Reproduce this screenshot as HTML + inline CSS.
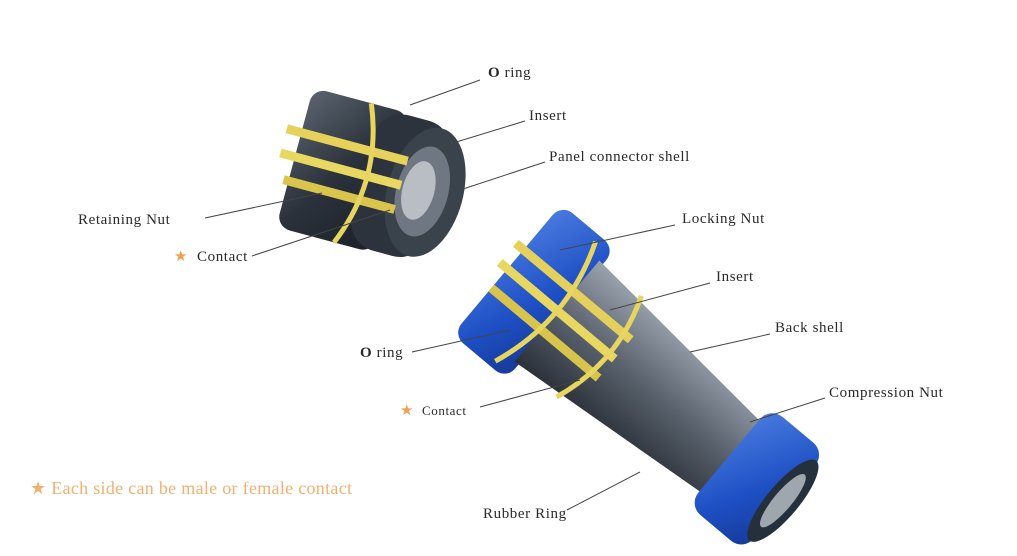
<!DOCTYPE html>
<html><head><meta charset="utf-8"><style>
html,body{margin:0;padding:0;background:#fff;}
body{width:1017px;height:556px;overflow:hidden;position:relative;}
svg{position:absolute;left:0;top:0;}
.t{font-family:"Liberation Serif",serif;font-size:15px;letter-spacing:0.6px;fill:#2a2a2a;}
</style></head><body>
<svg width="1017" height="556" viewBox="0 0 1017 556">
<defs>
<linearGradient id="dk" x1="0" y1="0" x2="1" y2="1"><stop offset="0" stop-color="#5b6470"/><stop offset="0.5" stop-color="#2b323b"/><stop offset="1" stop-color="#1b2027"/></linearGradient>
<linearGradient id="bl" x1="0" y1="0" x2="1" y2="1"><stop offset="0" stop-color="#4a7be0"/><stop offset="0.6" stop-color="#1d4fc4"/><stop offset="1" stop-color="#163a96"/></linearGradient>
<linearGradient id="gr" x1="0" y1="0" x2="0" y2="1"><stop offset="0" stop-color="#9aa3ad"/><stop offset="0.5" stop-color="#59626d"/><stop offset="1" stop-color="#2b3038"/></linearGradient>
</defs>
<g transform="translate(372,178) rotate(15)">
<rect x="-80" y="-72" width="100" height="144" rx="14" fill="url(#dk)"/>
<rect x="-10" y="-70" width="80" height="140" rx="30" fill="#2c333c"/>
<ellipse cx="55" cy="0" rx="38" ry="66" fill="#3a424c"/>
<ellipse cx="52" cy="0" rx="26" ry="46" fill="#6f7882"/>
<ellipse cx="48" cy="0" rx="16" ry="30" fill="#b8bec4"/>
<rect x="-95" y="-30" width="125" height="9" fill="#e6d25a"/>
<rect x="-95" y="-5" width="125" height="9" fill="#e8d760"/>
<rect x="-85" y="20" width="115" height="9" fill="#d9c54c"/>
<path d="M-20,-72 Q10,0 -20,72" stroke="#e7d55f" stroke-width="5" fill="none"/>
</g>
<g transform="translate(645,385) rotate(40)">
<rect x="-180" y="-85" width="70" height="170" rx="14" fill="url(#bl)"/>
<polygon points="-115,-66 160,-42 160,42 -115,66" fill="url(#gr)"/>
<rect x="110" y="-64" width="72" height="128" rx="16" fill="url(#bl)"/>
<ellipse cx="180" cy="0" rx="16" ry="52" fill="#25303d"/>
<ellipse cx="180" cy="0" rx="9" ry="34" fill="#9ea6ae"/>
<rect x="-190" y="-30" width="150" height="9" fill="#e4d05a"/>
<rect x="-190" y="-5" width="150" height="9" fill="#e8d760"/>
<rect x="-180" y="20" width="140" height="9" fill="#d8c34c"/>
<path d="M-130,-78 Q-100,0 -130,78" stroke="#e7d55f" stroke-width="5" fill="none"/>
<path d="M-60,-66 Q-35,0 -60,66" stroke="#e7d55f" stroke-width="5" fill="none"/>
</g>
<g stroke="#444" stroke-width="1">
<line x1="480" y1="80" x2="410" y2="105"/>
<line x1="525" y1="121" x2="440" y2="147"/>
<line x1="545" y1="162" x2="460" y2="190"/>
<line x1="205" y1="218" x2="322" y2="193"/>
<line x1="252" y1="256" x2="390" y2="210"/>
<line x1="675" y1="225" x2="560" y2="250"/>
<line x1="710" y1="283" x2="610" y2="310"/>
<line x1="770" y1="334" x2="690" y2="352"/>
<line x1="825" y1="398" x2="750" y2="422"/>
<line x1="412" y1="352" x2="510" y2="330"/>
<line x1="480" y1="407" x2="580" y2="380"/>
<line x1="567" y1="510" x2="640" y2="472"/>
</g>
<text class="t" x="488" y="77"><tspan font-weight="bold">O</tspan> ring</text>
<text class="t" x="529" y="120">Insert</text>
<text class="t" x="549" y="161">Panel connector shell</text>
<text class="t" x="78" y="224">Retaining Nut</text>
<text class="t" x="174" y="261" style="fill:#f0a050">★</text>
<text class="t" x="197" y="261">Contact</text>
<text class="t" x="682" y="223">Locking Nut</text>
<text class="t" x="716" y="281">Insert</text>
<text class="t" x="775" y="332">Back shell</text>
<text class="t" x="829" y="397">Compression Nut</text>
<text class="t" x="360" y="357"><tspan font-weight="bold">O</tspan> ring</text>
<text class="t" x="400" y="415" style="fill:#f0a050">★</text>
<text class="t" x="422" y="415" style="font-size:13px">Contact</text>
<text class="t" x="483" y="518">Rubber Ring</text>
<text x="30" y="494" style="font-family:'Liberation Serif',serif;font-size:18px;letter-spacing:0.3px;fill:#f2b070">★ Each side can be male or female contact</text>
</svg>
</body></html>
